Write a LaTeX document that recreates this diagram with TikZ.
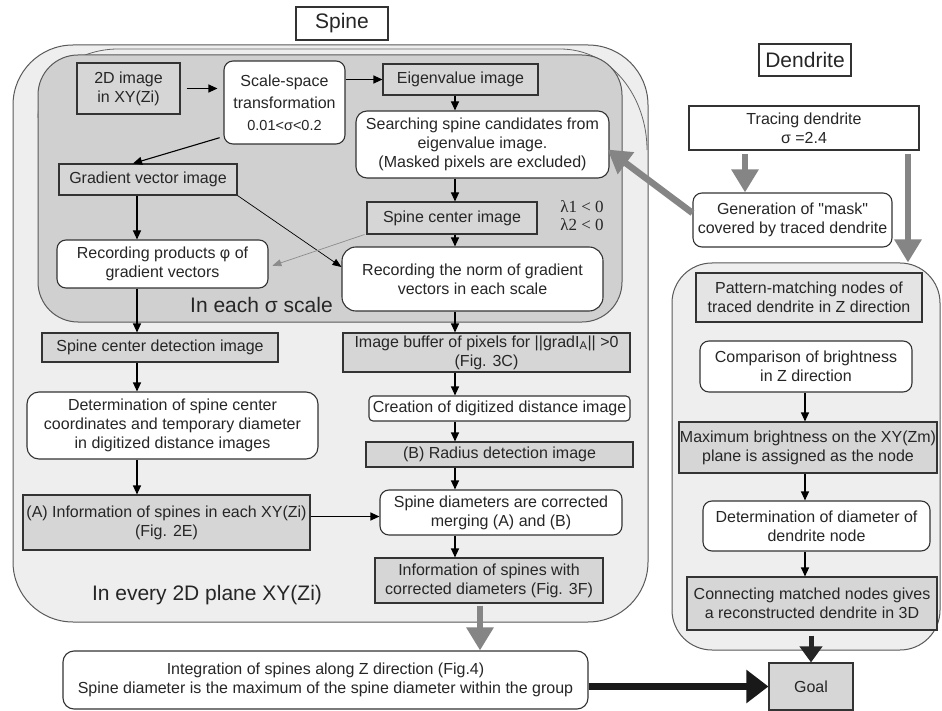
\documentclass[tikz,border=0pt]{standalone}
\usepackage{fontspec}
\setmainfont{Liberation Sans}
\newfontfamily\serifl{Liberation Serif}
\newfontfamily\rawsans[Ligatures=TeXOff]{Liberation Sans}
\usetikzlibrary{arrows.meta,calc}
\definecolor{bgout}{HTML}{EEEEEE}
\definecolor{bgin}{HTML}{D0D0D0}
\definecolor{boxgray}{HTML}{D6D6D6}
\definecolor{boxlight}{HTML}{E4E4E4}
\definecolor{linec}{HTML}{333333}
\definecolor{arrgray}{HTML}{858585}
\tikzset{
  base/.style={draw=linec, line width=1.1pt, inner sep=0pt, align=center,
    font=\fontsize{16}{19}\selectfont, text=black!85},
  gbox/.style={base, fill=boxgray},
  wbox/.style={base, fill=white, rounded corners=9pt},
  sbox/.style={base, fill=white},
  bgbox/.style={draw=black!65, line width=1pt},
  biglbl/.style={font=\fontsize{21}{24}\selectfont, text=black!85, inner sep=0pt},
  arr/.style={-{Triangle[length=9pt,width=8pt]}, line width=1.1pt, black},
  thinarr/.style={-{Triangle[length=9pt,width=7pt]}, line width=0.7pt},
  garr/.style={-{Triangle[length=23pt,width=26pt]}, line width=6.5pt, arrgray},
  darr/.style={-{Triangle[length=16pt,width=22pt]}, line width=5pt, black!85},
  karr/.style={-{Triangle[length=22pt,width=32pt]}, line width=7.5pt, black!90},
}
\begin{document}
\begin{tikzpicture}[x=1pt,y=-1pt]
\useasboundingbox (0,0) rectangle (942,711);
\fill[white] (0,0) rectangle (942,711);
% background panels
\node[bgbox, fill=bgout, rounded corners=60pt, minimum width=635pt, minimum height=577pt] (sbg) at (330.5,333.5) {};
\draw[black!60, line width=0.8pt] (38,118) to[out=90,in=180] (118,49) -- (560,49) to[out=0,in=90] (647,150);
\node[bgbox, fill=bgin, rounded corners=40pt, minimum width=584pt, minimum height=267pt] (ibg) at (330,188.5) {};
\node[bgbox, fill=bgout, rounded corners=40pt, minimum width=268pt, minimum height=387pt] (dbg) at (806,456.5) {};
% column coordinates
\coordinate (colL) at (137,0);
\coordinate (colM) at (455,0);
\coordinate (colR) at (805,0);
\coordinate (colG) at (480,0);
\coordinate (colT) at (745,0);
\coordinate (colD) at (908,0);
% labels
\node[sbox, font=\fontsize{21}{24}\selectfont, minimum width=92pt, minimum height=33pt] (spinelbl) at (342,23.5) {Spine};
\node[sbox, font=\fontsize{21}{24}\selectfont, minimum width=92pt, minimum height=32pt] (dendlbl) at (805,60) {Dendrite};
% spine nodes
\node[gbox, minimum width=103pt, minimum height=51pt] (img2d) at (128.5,88.5) {2D image\\in XY(Zi)};
\node[wbox, minimum width=121pt, minimum height=83pt] (scalesp) at (284.5,102.5) {Scale-space\\[3pt]transformation\\[3pt]{\fontsize{14.5}{16}\selectfont 0.01<σ<0.2}};
\node[gbox, minimum width=155pt, minimum height=31pt] (eigen) at (460.5,79.5) {Eigenvalue image};
\node[wbox, rounded corners=11pt, minimum width=253pt, minimum height=67pt] (search) at (482.5,144.5) {Searching spine candidates from\\eigenvalue image.\\(Masked pixels are excluded)};
\node[gbox, minimum width=170pt, minimum height=32pt] (scimg) at (452,218) {Spine center image};
\node[font=\serifl\fontsize{17}{18}\selectfont, align=left, inner sep=0pt, text=black!85] (lam) at (582,216) {λ1 < 0\\λ2 < 0};
\node[gbox, minimum width=178pt, minimum height=31pt] (gradimg) at (148,179.5) {Gradient vector image};
\node[wbox, minimum width=211pt, minimum height=48pt] (recprod) at (162.5,264) {Recording products φ of\\gradient vectors};
\node[wbox, rounded corners=14pt, minimum width=261pt, minimum height=64pt] (recnorm) at (472.5,279) {Recording the norm of gradient\\vectors in each scale};
\node[biglbl] (eachlbl) at (261.5,305) {In each σ scale};
\node[gbox, minimum width=236pt, minimum height=29pt] (scdet) at (160,347.5) {Spine center detection image};
\node[gbox, minimum width=287pt, minimum height=39pt] (imbuf) at (486.5,352.5) {Image buffer of pixels for ||gradI\textsubscript{A}|| >0\\(Fig. 3C)};
\node[wbox, rounded corners=12pt, minimum width=291pt, minimum height=67pt] (detsc) at (172.5,425.5) {Determination of spine center\\coordinates and temporary diameter\\in digitized distance images};
\node[wbox, rounded corners=4pt, minimum width=261pt, minimum height=25pt] (creat) at (499.5,408.5) {Creation of digitized distance image};
\node[gbox, minimum width=267pt, minimum height=25pt] (radius) at (499.5,454.5) {(B) Radius detection image};
\node[gbox, minimum width=287pt, minimum height=55pt] (infoA) at (166.5,522.5) {(A) Information of spines in each XY(Zi)\\(Fig. 2E)};
\node[wbox, minimum width=242pt, minimum height=45pt] (spdiam) at (501,512.5) {Spine diameters are corrected\\merging (A) and (B)};
\node[gbox, minimum width=228pt, minimum height=45pt] (infosp) at (489,580.5) {Information of spines with\\corrected diameters (Fig. 3F)};
\node[biglbl] (everylbl) at (207,595) {In every 2D plane XY(Zi)};
\node[wbox, rounded corners=11pt, minimum width=525pt, minimum height=58pt] (integ) at (325.5,680) {Integration of spines along Z direction (Fig.4)\\Spine diameter is the maximum of the spine diameter within the group};
\node[gbox, minimum width=84pt, minimum height=47pt] (goal) at (811,686.5) {Goal};
% dendrite nodes
\node[sbox, minimum width=230pt, minimum height=44pt] (tracing) at (804,128) {Tracing dendrite\\σ =2.4};
\node[wbox, minimum width=199pt, minimum height=54pt, font=\rawsans\fontsize{16}{19}\selectfont] (mask) at (792.5,220) {Generation of "mask"\\covered by traced dendrite};
\node[base, fill=boxlight, minimum width=226pt, minimum height=49pt] (pattern) at (809,297.5) {Pattern-matching nodes of\\traced dendrite in Z direction};
\node[wbox, minimum width=212pt, minimum height=51pt] (compar) at (806,366.5) {Comparison of brightness\\in Z direction};
\node[gbox, minimum width=258pt, minimum height=51pt] (maxbr) at (808,447.5) {Maximum brightness on the XY(Zm)\\plane is assigned as the node};
\node[wbox, minimum width=227pt, minimum height=50pt] (detdia) at (816.5,526) {Determination of diameter of\\dendrite node};
\node[gbox, minimum width=250pt, minimum height=53pt] (connect) at (812,603.5) {Connecting matched nodes gives\\a reconstructed dendrite in 3D};
% thin arrows
\draw[arr, shorten <=6pt, shorten >=6pt] (img2d.east) -- (img2d.east -| scalesp.west);
\draw[arr] (eigen.west -| scalesp.east) -- (eigen.west);
\draw[arr] (eigen.south -| colM) -- (search.north -| colM);
\draw[arr] (search.south -| colM) -- (scimg.north -| colM);
\draw[arr] (scimg.south -| colM) -- (recnorm.north -| colM);
\draw[arr] (recnorm.south -| colM) -- (imbuf.north -| colM);
\draw[arr] (imbuf.south -| colM) -- (creat.north -| colM);
\draw[arr] (creat.south -| colM) -- (radius.north -| colM);
\draw[arr] (radius.south -| colM) -- (spdiam.north -| colM);
\draw[arr] (spdiam.south -| colM) -- (infosp.north -| colM);
\draw[arr, shorten <=4pt] ([yshift=8pt]scalesp.south west) -- ([xshift=-4pt]gradimg.north -| colL);
\draw[arr] (gradimg.south -| colL) -- (recprod.north -| colL);
\draw[thinarr, black] (gradimg.south east) -- ([yshift=12pt]recnorm.west);
\draw[thinarr, black!45, shorten >=4pt] ([xshift=-2pt]scimg.south west) -- ([yshift=-3pt]recprod.east);
\draw[arr] (recprod.south -| colL) -- (scdet.north -| colL);
\draw[arr] (scdet.south -| colL) -- (detsc.north -| colL);
\draw[arr] (detsc.south -| colL) -- (infoA.north -| colL);
\draw[arr] ([yshift=6pt]infoA.east) -- ([yshift=6pt]infoA.east -| spdiam.west);
\draw[arr] (compar.south -| colR) -- (maxbr.north -| colR);
\draw[arr] (maxbr.south -| colR) -- (detdia.north -| colR);
\draw[arr] (detdia.south -| colR) -- (connect.north -| colR);
% thick arrows
\draw[garr, shorten <=3pt] (tracing.south -| colT) -- (mask.north -| colT);
\draw[garr, shorten <=3pt] (tracing.south -| colD) -- (dbg.north -| colD);
\draw[garr] ([yshift=7pt]mask.west) -- ([yshift=-5pt,xshift=-2pt]search.east);
\draw[garr, shorten <=2pt] (infosp.south -| colG) -- (integ.north -| colG);
\draw[darr, shorten <=5pt] (connect.south -| goal.north) -- (goal.north);
\draw[karr] (goal.west -| integ.east) -- (goal.west);
\end{tikzpicture}
\end{document}
